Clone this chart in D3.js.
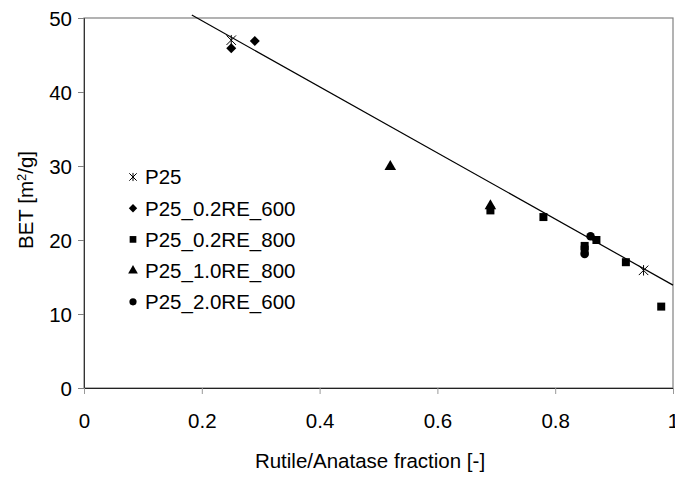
<!DOCTYPE html>
<html>
<head>
<meta charset="utf-8">
<script src="https://cdn.jsdelivr.net/npm/d3@7"></script>
<style>
  body { margin: 0; background: #fff; }
  svg text { font-family: "Liberation Sans", Arial, sans-serif; fill: #000; }
</style>
</head>
<body>
<div class="wrap"></div>
<script>
// series data: [rutile fraction, BET m2/g]
const seriesNames = ["P25", "P25_0.2RE_600", "P25_0.2RE_800", "P25_1.0RE_800", "P25_2.0RE_600"];
const p25 = [[0.25, 47.0], [0.95, 15.9]];
const re02_600 = [[0.25, 45.9], [0.29, 46.9]];
const re02_800 = [[0.69, 24.0], [0.78, 23.1], [0.85, 19.2], [0.85, 18.7], [0.87, 20.0], [0.92, 17.0], [0.98, 11.0]];
const re10_800 = [[0.52, 29.9], [0.69, 24.6]];
const re20_600 = [[0.85, 18.1], [0.86, 20.5]];
// linear trend line ends
const trendX = [0.183, 1.0];
const trendY = [50.4, 13.9];
const xTicks = [0, 0.2, 0.4, 0.6, 0.8, 1];
const yTicks = [0, 10, 20, 30, 40, 50];

const W = 675, H = 477;
const m = {left: 84, right: 2, top: 18, bottom: 89};
const fs = 20.5;

const svg = d3.select(".wrap").append("svg")
    .attr("width", W).attr("height", H)
    .attr("viewBox", [0, 0, W, H]);

const x = d3.scaleLinear().domain([0, 1]).range([m.left, W - m.right]);
const y = d3.scaleLinear().domain([0, 50]).range([H - m.bottom, m.top]);

// plot frame
svg.append("rect")
    .attr("x", x(0)).attr("y", y(50))
    .attr("width", x(1) - x(0)).attr("height", y(0) - y(50))
    .attr("fill", "none").attr("stroke", "#808080").attr("stroke-width", 1.2);

const yAxis = svg.append("g")
    .attr("transform", "translate(" + x(0) + ",0)")
    .call(d3.axisLeft(y).tickValues(yTicks).tickSize(6).tickPadding(6).tickFormat(d3.format("d")));
yAxis.select(".domain").attr("stroke", "#333");
yAxis.selectAll(".tick line").attr("stroke", "#808080");
yAxis.selectAll("text").attr("font-size", fs).attr("dy", "0.36em");

const xAxis = svg.append("g")
    .attr("transform", "translate(0," + y(0) + ")")
    .call(d3.axisBottom(x).tickValues(xTicks).tickSize(6).tickPadding(19)
      .tickFormat(d => d === 0 || d === 1 ? d3.format("d")(d) : d3.format(".1f")(d)));
xAxis.select(".domain").attr("stroke", "#222");
xAxis.selectAll(".tick line").attr("stroke", "#999");
xAxis.selectAll("text").attr("font-size", fs);

// trend line
svg.append("line")
    .attr("x1", x(trendX[0])).attr("y1", y(trendY[0]))
    .attr("x2", x(trendX[1])).attr("y2", y(trendY[1]))
    .attr("stroke", "#000").attr("stroke-width", 1.2);

const star = {
  draw(ctx, size) {
    const r = Math.sqrt(size) / 2;
    ctx.moveTo(-r, -r); ctx.lineTo(r, r);
    ctx.moveTo(-r, r); ctx.lineTo(r, -r);
    ctx.moveTo(0, -r * 1.1); ctx.lineTo(0, r * 1.1);
  }
};

const styles = [
  {data: p25, type: star, size: 90, stroke: true},
  {data: re02_600, type: d3.symbolDiamond2, size: 64},
  {data: re02_800, type: d3.symbolSquare, size: 64},
  {data: re10_800, type: d3.symbolTriangle, size: 58},
  {data: re20_600, type: d3.symbolCircle, size: 58}
];

styles.forEach(s => {
  const sym = d3.symbol().type(s.type).size(s.size);
  svg.append("g").selectAll("path").data(s.data).join("path")
      .attr("d", sym)
      .attr("transform", d => "translate(" + x(d[0]) + "," + y(d[1]) + ")")
      .attr("fill", s.stroke ? "none" : "#000")
      .attr("stroke", s.stroke ? "#000" : "none")
      .attr("stroke-width", 1);
});

// legend
const legend = svg.append("g");
seriesNames.forEach((name, i) => {
  const s = styles[i];
  const ly = 177 + i * 31.2;
  legend.append("path")
      .attr("d", d3.symbol().type(s.type).size(s.stroke ? 55 : s.size * 0.7)())
      .attr("transform", "translate(133," + ly + ")")
      .attr("fill", s.stroke ? "none" : "#000")
      .attr("stroke", s.stroke ? "#000" : "none");
  legend.append("text")
      .attr("x", 145).attr("y", ly)
      .attr("dy", "0.36em")
      .attr("font-size", fs)
      .text(name);
});

// axis titles
svg.append("text")
    .attr("transform", "translate(33,200) rotate(-90)")
    .attr("text-anchor", "middle")
    .attr("font-size", fs)
    .html('BET [m<tspan baseline-shift="super" font-size="13">2</tspan>/g]');

svg.append("text")
    .attr("x", 370).attr("y", 468)
    .attr("text-anchor", "middle")
    .attr("font-size", fs)
    .text("Rutile/Anatase fraction [-]");
</script>
</body>
</html>
